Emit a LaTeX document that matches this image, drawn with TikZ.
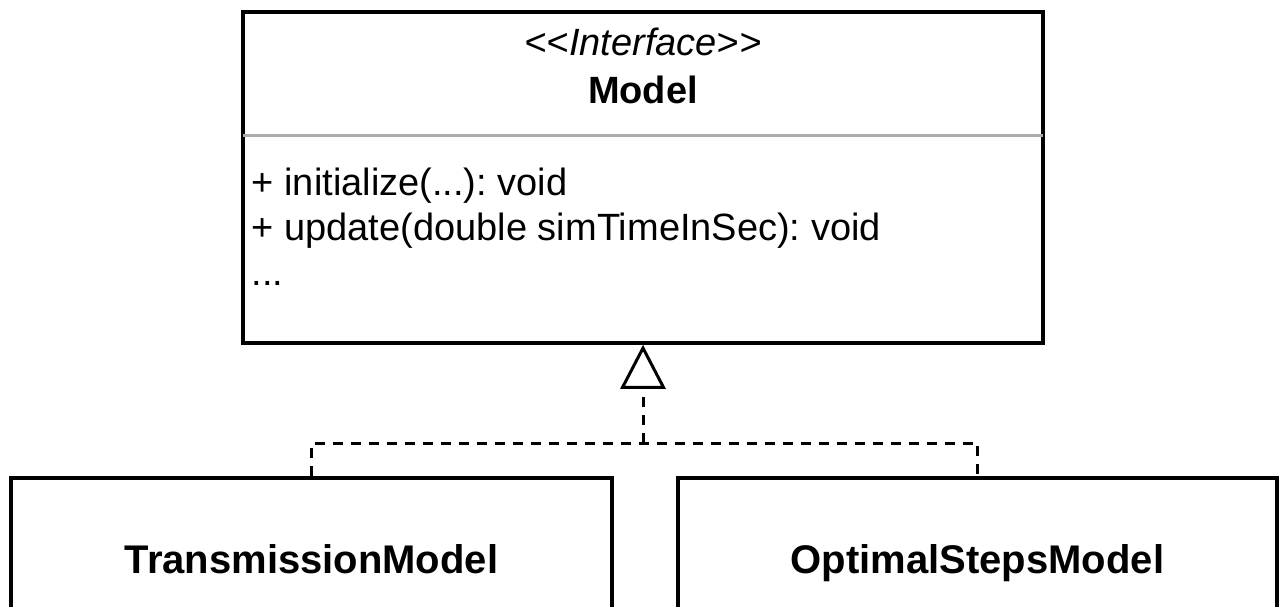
\documentclass[tikz,border=0pt]{standalone}
\usepackage{fontspec}
\setmainfont{Liberation Sans}
\usetikzlibrary{arrows.meta}
\frenchspacing

\begin{document}
\begin{tikzpicture}[x=1pt,y=-1pt,line width=3.5pt,
    box/.style={draw,inner sep=0pt,font=\fontsize{40}{48}\selectfont\bfseries,
      text height=29pt,text depth=8pt},
    realize/.style={line width=3pt,dash pattern=on 10pt off 8pt,
      -{Triangle[open,length=44pt,width=45pt,line width=3pt]}}]
\useasboundingbox (0,0) rectangle (1281,607);
\clip (0,0) rectangle (1281,607);
    \node[draw,inner sep=0pt,minimum width=800pt,minimum height=331pt] (1) at (643,177.5) {};
    \node[font=\fontsize{38}{45}\selectfont\itshape,anchor=base] (s) at (643,56) {<\kern0pt<Interface>\kern0pt>};
    \node[font=\fontsize{38}{45}\selectfont\bfseries,anchor=base] (n) at (643,103) {Model};
    \coordinate (c) at (0,135);
    \draw[gray!65,line width=3pt] ([xshift=1.75pt]1.west |- c) -- ([xshift=-1.75pt]1.east |- c);
\begin{scope}[font=\fontsize{38}{45}\selectfont,anchor=base west,inner sep=0pt]
    \node (m1) at (250,195) {+ initialize(...): void};
    \node (m2) at (250,240) {+ update(double simTimeInSec): void};
    \node (m3) at (250,285) {...};
\end{scope}
    \node[box,minimum width=601pt,minimum height=171pt,anchor=north] (2) at (311.5,476) {TransmissionModel};
    \node[box,minimum width=599pt,minimum height=171pt,anchor=north] (3) at (977.5,476) {OptimalStepsModel};
    \coordinate (j) at (643,443);
    \draw[line width=3pt,dash pattern=on 10pt off 8pt] (2.north) -- (2.north |- j) -- (3.north |- j) -- (3.north);
    \draw[realize] (j) -- (1.south);
\end{tikzpicture}
\end{document}
